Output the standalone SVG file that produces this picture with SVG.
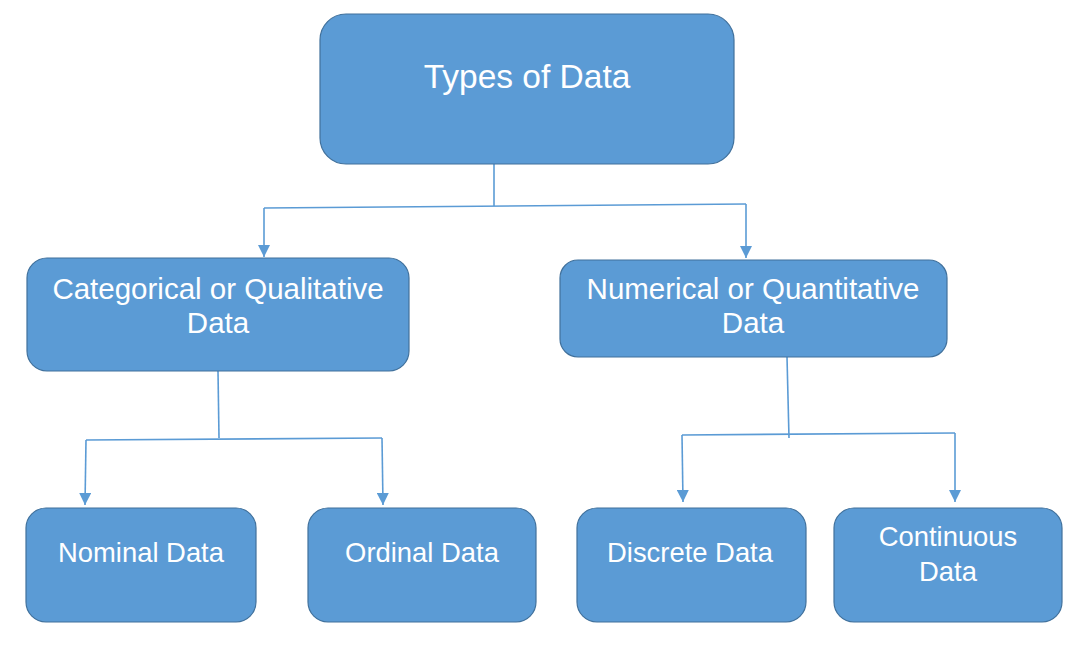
<svg xmlns="http://www.w3.org/2000/svg" width="1087" height="648" viewBox="0 0 1087 648">
<style>
.box{fill:#5b9bd5;stroke:#41719c;stroke-width:1.2}
.t{fill:#ffffff;font-family:"Liberation Sans",Arial,sans-serif;text-anchor:middle}
.l1{font-size:33.5px}
.l2{font-size:29.5px}
.l3{font-size:27.4px}
.c{fill:none;stroke:#5b9bd5;stroke-width:1.6}
</style>
<defs>
<marker id="ah" viewBox="0 0 10 10" refX="10" refY="5" markerWidth="12" markerHeight="12" markerUnits="userSpaceOnUse" orient="auto">
<path d="M0,0 L10,5 L0,10 z" fill="#5b9bd5"/>
</marker>
</defs>
<rect width="1087" height="648" fill="#ffffff"/>
<g id="connectors">
<path class="c" d="M494,164 L494,206"/>
<path class="c" d="M264,208 L746,204"/>
<path class="c" d="M264,208 L264,257" marker-end="url(#ah)"/>
<path class="c" d="M746,204 L746,258" marker-end="url(#ah)"/>
<path class="c" d="M218,371 L219,438"/>
<path class="c" d="M86,440 L382,438"/>
<path class="c" d="M86,440 L85,505" marker-end="url(#ah)"/>
<path class="c" d="M382,438 L383,505" marker-end="url(#ah)"/>
<path class="c" d="M787,357 L789,438"/>
<path class="c" d="M682,435 L955,433"/>
<path class="c" d="M682,435 L683,502" marker-end="url(#ah)"/>
<path class="c" d="M955,433 L955,502" marker-end="url(#ah)"/>
</g>
<g id="types">
<rect class="box" x="320" y="14" width="414" height="150" rx="26"/>
<text class="t l1" x="527" y="88">Types of Data</text>
</g>
<g id="categorical">
<rect class="box" x="27" y="258" width="382" height="113" rx="20"/>
<text class="t l2" x="218" y="299">Categorical or Qualitative</text>
<text class="t l2" x="218" y="333">Data</text>
</g>
<g id="numerical">
<rect class="box" x="560" y="260" width="387" height="97" rx="18"/>
<text class="t l2" x="753" y="299">Numerical or Quantitative</text>
<text class="t l2" x="753" y="333">Data</text>
</g>
<g id="nominal">
<rect class="box" x="26" y="508" width="230" height="114" rx="20"/>
<text class="t l3" x="141" y="562">Nominal Data</text>
</g>
<g id="ordinal">
<rect class="box" x="308" y="508" width="228" height="114" rx="20"/>
<text class="t l3" x="422" y="562">Ordinal Data</text>
</g>
<g id="discrete">
<rect class="box" x="577" y="508" width="229" height="114" rx="20"/>
<text class="t l3" x="690" y="562">Discrete Data</text>
</g>
<g id="continuous">
<rect class="box" x="834" y="508" width="228" height="114" rx="20"/>
<text class="t l3" x="948" y="546">Continuous</text>
<text class="t l3" x="948" y="581">Data</text>
</g>
</svg>
